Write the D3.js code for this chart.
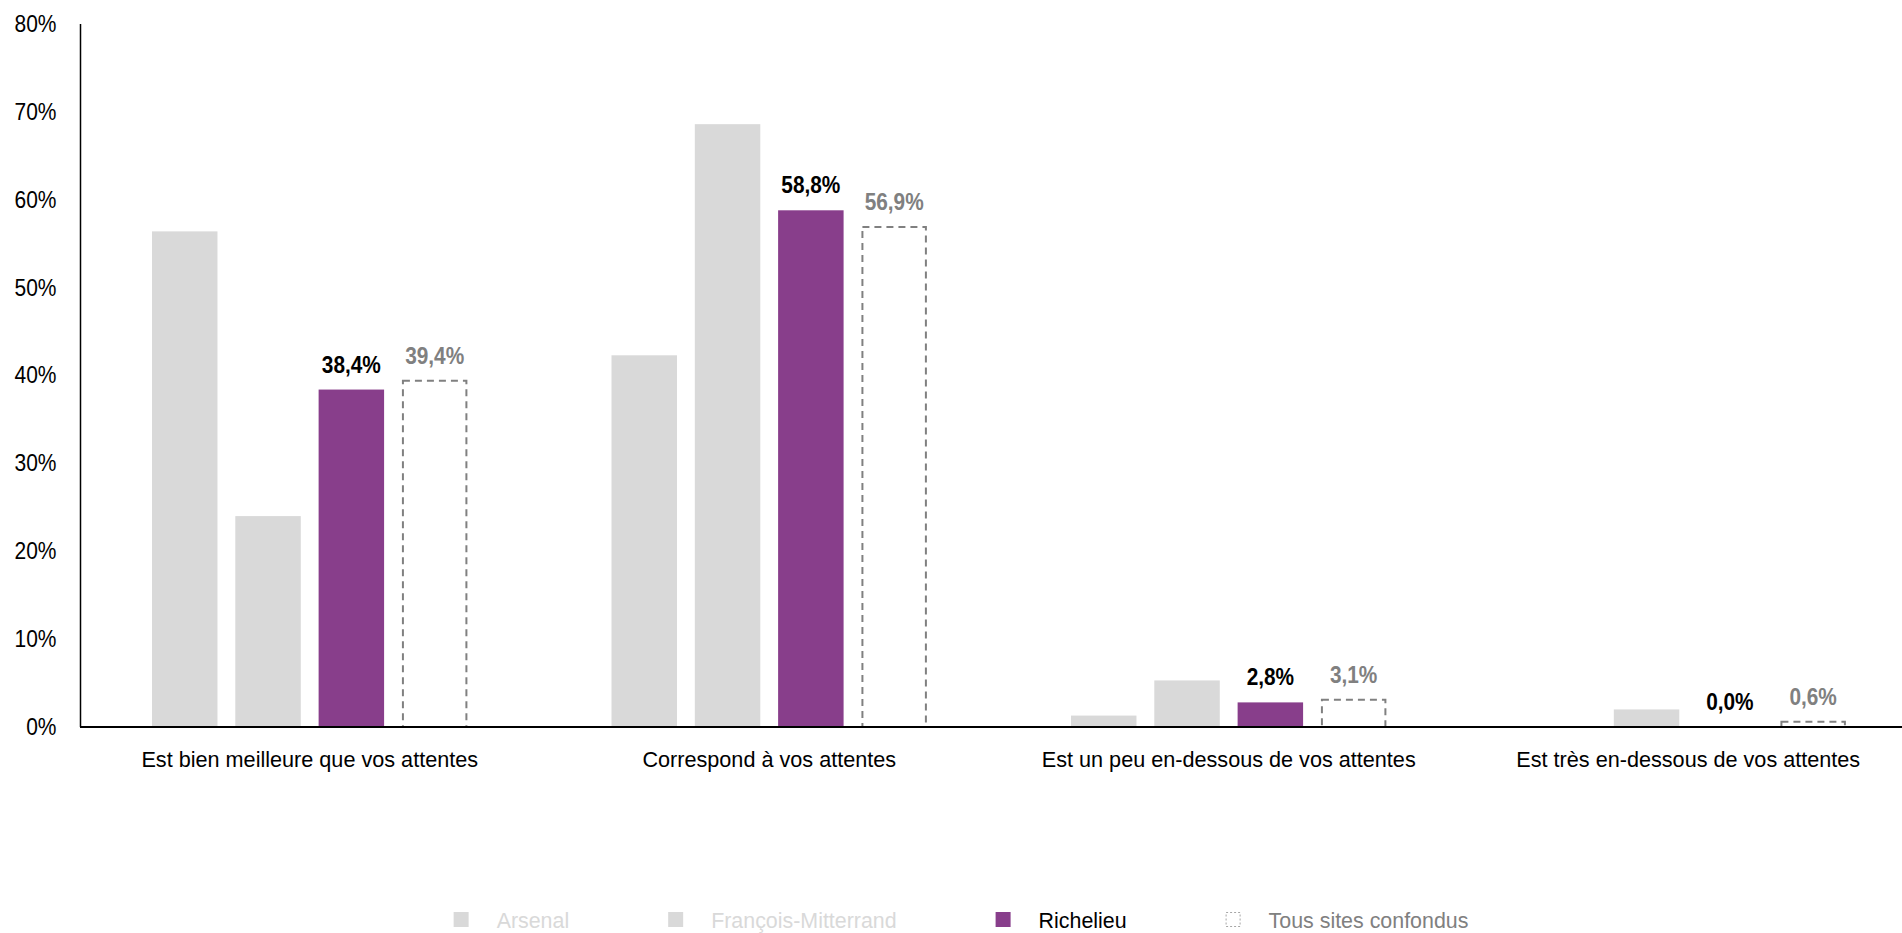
<!DOCTYPE html>
<html>
<head>
<meta charset="utf-8">
<script src="https://cdn.jsdelivr.net/npm/d3@7"></script>
<style>
  html, body { margin: 0; padding: 0; background: #fff; }
  svg { display: block; }
  text { font-family: "Liberation Sans", Arial, sans-serif; }
</style>
</head>
<body>
<svg id="chart" width="1902" height="933"></svg>
<script>
const categories = [
  "Est bien meilleure que vos attentes",
  "Correspond à vos attentes",
  "Est un peu en-dessous de vos attentes",
  "Est très en-dessous de vos attentes"
];
const seriesNames = ["Arsenal", "François-Mitterrand", "Richelieu", "Tous sites confondus"];
const arsenal = [56.4, 42.3, 1.3, 0];
const francoisMitterrand = [24.0, 68.6, 5.3, 2.0];
const richelieu = [38.4, 58.8, 2.8, 0.0];
const tousSites = [39.4, 56.9, 3.1, 0.6];
const yTicks = [0, 10, 20, 30, 40, 50, 60, 70, 80];

const seriesValues = [arsenal, francoisMitterrand, richelieu, tousSites];
const labelled = { "Richelieu": true, "Tous sites confondus": true };

const colGray = "#d9d9d9", colPurple = "#883e8b", colDash = "#808080";

const svg = d3.select("#chart");
const W = 1902;

const y = d3.scaleLinear().domain([0, 80]).range([727, 24]);
const x0 = d3.scaleBand().domain(categories).range([80, 1918]).padding(0);
const x1 = d3.scaleBand().domain(seriesNames).range([72, 72 + 315.4]).paddingInner(0.214).paddingOuter(0);

// Y axis tick labels
const tickScale = 0.9;
const yAxis = d3.axisLeft(y).tickValues(yTicks).tickSize(0).tickPadding(24)
  .tickFormat(d => d + "%");
const gy = svg.append("g").attr("transform", "translate(80.5,0)").call(yAxis);
gy.select(".domain").remove();
gy.selectAll("text").attr("font-size", "23.3px").attr("fill", "#000")
  .attr("font-family", "'Liberation Sans', Arial, sans-serif")
  .attr("x", -24 / tickScale)
  .attr("transform", `scale(${tickScale},1)`);

// Bars
const data = [];
categories.forEach((c, ci) => {
  seriesNames.forEach((s, si) => {
    data.push({ cat: c, series: s, value: seriesValues[si][ci] });
  });
});

const g = svg.append("g");
g.selectAll("rect.bar")
  .data(data.filter(d => d.series !== "Tous sites confondus"))
  .join("rect")
  .attr("class", "bar")
  .attr("x", d => x0(d.cat) + x1(d.series))
  .attr("width", x1.bandwidth())
  .attr("y", d => y(d.value))
  .attr("height", d => y(0) - y(d.value))
  .attr("fill", d => d.series === "Richelieu" ? colPurple : colGray);

g.selectAll("rect.tous")
  .data(data.filter(d => d.series === "Tous sites confondus"))
  .join("rect")
  .attr("class", "tous")
  .attr("x", d => x0(d.cat) + x1(d.series) + 1)
  .attr("width", x1.bandwidth() - 2)
  .attr("y", d => y(d.value))
  .attr("height", d => y(0) - y(d.value))
  .attr("fill", "#fff")
  .attr("stroke", colDash)
  .attr("stroke-width", 2)
  .attr("stroke-dasharray", "7,5");

// Axis lines
svg.append("line").attr("x1", 80.5).attr("x2", 80.5).attr("y1", 24).attr("y2", 727)
  .attr("stroke", "#000").attr("stroke-width", 1.5);
svg.append("line").attr("x1", 80).attr("x2", W).attr("y1", 727).attr("y2", 727)
  .attr("stroke", "#000").attr("stroke-width", 2);

// Data labels
g.selectAll("text.lab")
  .data(data.filter(d => labelled[d.series]))
  .join("text")
  .attr("class", "lab")
  .attr("transform", d => `translate(${x0(d.cat) + x1(d.series) + x1.bandwidth() / 2},${y(d.value) - 17}) scale(0.85,1)`)
  .attr("text-anchor", "middle")
  .attr("font-size", "24.5px")
  .attr("font-weight", "bold")
  .attr("fill", d => d.series === "Richelieu" ? "#000" : colDash)
  .text(d => d.value.toFixed(1).replace(".", ",") + "%");

// Category labels
const xAxis = d3.axisBottom(x0).tickSize(0).tickPadding(0);
const gx = svg.append("g").attr("transform", "translate(0,727)").call(xAxis);
gx.select(".domain").remove();
gx.selectAll("text").attr("font-size", "22.2px").attr("fill", "#000")
  .attr("font-family", "'Liberation Sans', Arial, sans-serif")
  .attr("dy", null).attr("y", 0)
  .attr("transform", "translate(0,39.5) scale(0.975,1)");

// Legend
const legendColors = [
  { fill: colGray, stroke: "none", text: colGray },
  { fill: colGray, stroke: "none", text: colGray },
  { fill: colPurple, stroke: "none", text: "#000" },
  { fill: "#fff", stroke: "#a6a6a6", text: colDash }
];
const lg = svg.append("g");
const items = lg.selectAll("g.item").data(seriesNames).join("g").attr("class", "item");
items.append("rect")
  .attr("x", (d, i) => legendColors[i].stroke === "none" ? 0 : 0.5)
  .attr("y", (d, i) => legendColors[i].stroke === "none" ? 912 : 912.5)
  .attr("width", (d, i) => legendColors[i].stroke === "none" ? 15 : 14)
  .attr("height", (d, i) => legendColors[i].stroke === "none" ? 15 : 14)
  .attr("fill", (d, i) => legendColors[i].fill)
  .attr("stroke", (d, i) => legendColors[i].stroke)
  .attr("stroke-width", 1)
  .attr("stroke-dasharray", "2,2");
items.append("text")
  .attr("x", 43)
  .attr("y", 927.5)
  .attr("font-size", "21.4px")
  .attr("fill", (d, i) => legendColors[i].text)
  .text(d => d);

let widths = [];
items.each(function() {
  widths.push(43 + d3.select(this).select("text").node().getComputedTextLength());
});
const gap = 99;
const total = d3.sum(widths) + gap * (widths.length - 1);
let cx = 961 - total / 2;
items.each(function(d, i) {
  d3.select(this).attr("transform", `translate(${cx},0)`);
  cx += widths[i] + gap;
});
</script>
</body>
</html>
